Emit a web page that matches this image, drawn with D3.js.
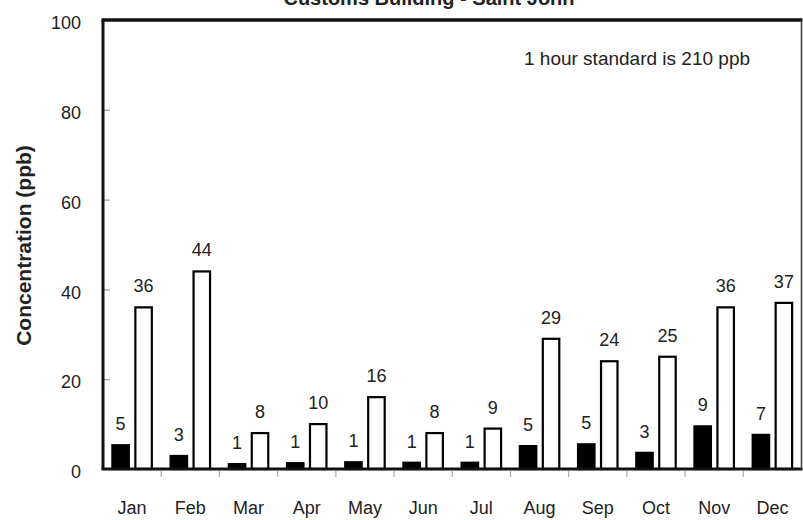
<!DOCTYPE html>
<html>
<head>
<meta charset="utf-8">
<script src="https://cdn.jsdelivr.net/npm/d3@7"></script>
<style>
  html, body { margin: 0; padding: 0; background: #fff; }
  svg { display: block; }
  text { font-family: "Liberation Sans", Arial, sans-serif; fill: #222; }
</style>
</head>
<body>
<svg id="chart" width="803" height="520"></svg>
<script>
// ---- data ----
const months = ["Jan","Feb","Mar","Apr","May","Jun","Jul","Aug","Sep","Oct","Nov","Dec"];
const seriesKeys = ["avg","max"];
const avgValues = [5.3, 2.9, 1.1, 1.3, 1.5, 1.4, 1.4, 5.1, 5.5, 3.6, 9.5, 7.6];
const maxValues = [36, 44, 8, 10, 16, 8, 9, 29, 24, 25, 36, 37];
const avgLabels = ["5","3","1","1","1","1","1","5","5","3","9","7"];
const maxLabels = ["36","44","8","10","16","8","9","29","24","25","36","37"];
const yTicks = [0, 20, 40, 60, 80, 100];
const titleText = "Customs Building - Saint John";
const yTitle = "Concentration (ppb)";
const noteText = "1 hour standard is 210 ppb";

// ---- layout ----
const svg = d3.select("#chart");
const plotLeft = 103, plotRight = 801.5, plotTop = 20, plotBottom = 469;

const x0 = d3.scaleBand().domain(months).range([plotLeft, plotRight]).paddingInner(0).paddingOuter(0);
const x1 = d3.scaleBand().domain(seriesKeys).range([0, x0.bandwidth()])
  .paddingInner(0.283).paddingOuter(0.408);
const y = d3.scaleLinear().domain([0, 100]).range([plotBottom, plotTop]);

const rows = months.map((m, i) => ({
  month: m,
  bars: [
    { key: "avg", value: avgValues[i], label: avgLabels[i] },
    { key: "max", value: maxValues[i], label: maxLabels[i] }
  ]
}));

// y axis: inward ticks, labels on the left
const yAxis = d3.axisLeft(y).tickValues(yTicks).tickSize(-7).tickPadding(22)
  .tickFormat(d3.format("d"));
const gy = svg.append("g").attr("transform", `translate(${plotLeft},0)`).call(yAxis);
gy.select(".domain").remove();
gy.selectAll(".tick line").attr("stroke", "#999").attr("stroke-width", 1.2)
  .filter(d => d === 0 || d === 100).remove();
gy.selectAll(".tick text")
  .style("font-family", '"Liberation Sans", Arial, sans-serif')
  .style("font-size", "18px").attr("fill", "#222").attr("dy", "0.48em");

// x axis labels at category centres
const xAxis = d3.axisBottom(x0).tickSize(0).tickPadding(32);
const gx = svg.append("g").attr("transform", `translate(0,${plotBottom})`).call(xAxis);
gx.select(".domain").remove();
gx.selectAll(".tick text")
  .style("font-family", '"Liberation Sans", Arial, sans-serif')
  .style("font-size", "18px").attr("fill", "#222").attr("dy", "0.71em");

// x boundary ticks (between categories), pointing down
const boundaries = months.map(m => x0(m)).concat([x0(months[months.length - 1]) + x0.bandwidth()]);
svg.append("g").selectAll("line").data(boundaries.slice(1, -1)).join("line")
  .attr("x1", d => d).attr("x2", d => d)
  .attr("y1", plotBottom + 2).attr("y2", plotBottom + 8)
  .attr("stroke", "#aaa").attr("stroke-width", 1.2);

// bars
const groups = svg.append("g").selectAll("g").data(rows).join("g")
  .attr("transform", d => `translate(${x0(d.month)},0)`);

groups.selectAll("rect").data(d => d.bars).join("rect")
  .attr("x", d => x1(d.key))
  .attr("width", x1.bandwidth())
  .attr("y", d => y(d.value))
  .attr("height", d => y(0) - y(d.value))
  .attr("fill", d => d.key === "avg" ? "#000" : "#fff")
  .attr("stroke", "#000")
  .attr("stroke-width", 2.2);

groups.selectAll("text").data(d => d.bars).join("text")
  .attr("x", d => x1(d.key) + x1.bandwidth() / 2)
  .attr("y", d => y(d.value) - 15)
  .attr("text-anchor", "middle")
  .style("font-size", "18px")
  .text(d => d.label);

// plot frame
svg.append("line").attr("x1", plotLeft - 1.5).attr("x2", plotRight + 1).attr("y1", plotTop).attr("y2", plotTop)
  .attr("stroke", "#111").attr("stroke-width", 3.5);
svg.append("line").attr("x1", plotLeft).attr("x2", plotLeft).attr("y1", plotTop).attr("y2", plotBottom)
  .attr("stroke", "#111").attr("stroke-width", 3);
svg.append("line").attr("x1", plotLeft - 1.5).attr("x2", plotRight + 1).attr("y1", plotBottom).attr("y2", plotBottom)
  .attr("stroke", "#111").attr("stroke-width", 3);
svg.append("line").attr("x1", plotRight).attr("x2", plotRight).attr("y1", plotTop).attr("y2", plotBottom)
  .attr("stroke", "#444").attr("stroke-width", 1.6);

// title (partially cut by the top edge, as in the reference)
svg.append("text").attr("x", 429).attr("y", 5).attr("text-anchor", "middle")
  .style("font-size", "20px").style("font-weight", "bold").text(titleText);

// annotation
svg.append("text").attr("x", 637).attr("y", 65).attr("text-anchor", "middle")
  .style("font-size", "19px").text(noteText);

// y axis title
svg.append("text").attr("transform", "translate(31,245.5) rotate(-90)")
  .attr("text-anchor", "middle")
  .style("font-size", "21px").style("font-weight", "bold").text(yTitle);
</script>
</body>
</html>
